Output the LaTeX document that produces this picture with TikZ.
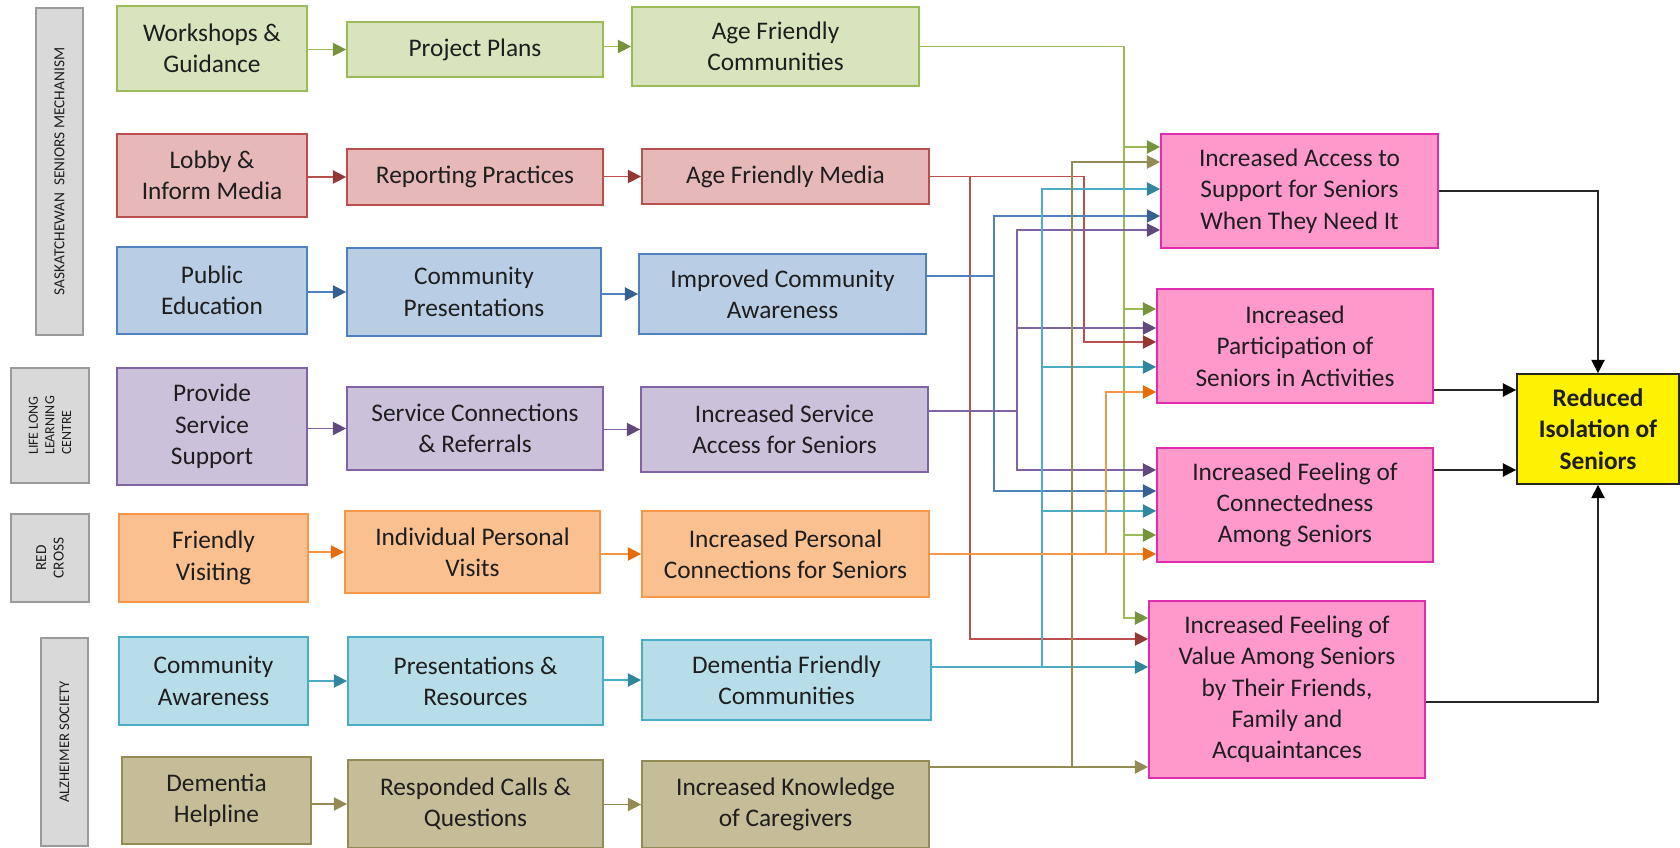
\documentclass[tikz,border=0pt]{standalone}
\usepackage{fontspec}
\setmainfont{Carlito}
\usetikzlibrary{arrows.meta,calc}

\definecolor{grnF}{HTML}{D7E4BD}\definecolor{grnD}{HTML}{9BBB59}\definecolor{grnT}{HTML}{77933C}
\definecolor{redF}{HTML}{E6B9B8}\definecolor{redD}{HTML}{B9504D}\definecolor{redT}{HTML}{953735}
\definecolor{bluF}{HTML}{B9CDE5}\definecolor{bluD}{HTML}{4F81BD}\definecolor{bluT}{HTML}{376092}
\definecolor{purF}{HTML}{CCC1DA}\definecolor{purD}{HTML}{8064A2}\definecolor{purT}{HTML}{604A7B}
\definecolor{oraF}{HTML}{FAC090}\definecolor{oraD}{HTML}{F79646}\definecolor{oraT}{HTML}{E46C0A}
\definecolor{teaF}{HTML}{B7DEE8}\definecolor{teaD}{HTML}{4BACC6}\definecolor{teaT}{HTML}{31859C}
\definecolor{oliF}{HTML}{C4BD97}\definecolor{oliD}{HTML}{948A54}\definecolor{oliT}{HTML}{948A54}
\definecolor{pnkF}{HTML}{FF99CC}\definecolor{pnkD}{HTML}{E02DAE}
\definecolor{labF}{HTML}{D9D9D9}\definecolor{labD}{HTML}{9A9A9A}
\definecolor{txt}{HTML}{1E1E1E}

\tikzset{every picture/.style={line width=0.75pt}}
\tikzset{
  sz/.style 2 args={minimum width=#1*0.75pt, minimum height=#2*0.75pt},
  box/.style={draw, line width=1.3pt, align=center, inner sep=1pt, text=txt, font=\fontsize{19}{23.5}\selectfont},
  lab/.style={draw=labD, fill=labF, line width=1.1pt, rotate=90, align=center, inner sep=1pt, text=txt},
  gbox/.style={box, fill=grnF, draw=grnD},
  rbox/.style={box, fill=redF, draw=redD},
  bbox/.style={box, fill=bluF, draw=bluD},
  pbox/.style={box, fill=purF, draw=purD},
  obox/.style={box, fill=oraF, draw=oraD},
  tbox/.style={box, fill=teaF, draw=teaD},
  lbox/.style={box, fill=oliF, draw=oliD},
  outbox/.style={box, fill=pnkF, draw=pnkD},
  goalbox/.style={box, fill=yellow, draw=black!85, font=\fontsize{19}{23.5}\selectfont\bfseries},
  arrtip/.style={-{Triangle[length=10pt,width=10pt,color=#1]}},
  garr/.style={draw=grnD, line width=1.1pt, arrtip=grnT},
  rarr/.style={draw=redD, line width=1.1pt, arrtip=redT},
  barr/.style={draw=bluD, line width=1.1pt, arrtip=bluT},
  parr/.style={draw=purD, line width=1.1pt, arrtip=purT},
  oarr/.style={draw=oraD, line width=1.1pt, arrtip=oraT},
  tarr/.style={draw=teaD, line width=1.1pt, arrtip=teaT},
  larr/.style={draw=oliD, line width=1.1pt, arrtip=oliT},
  karr/.style={draw=black!85, line width=1.1pt, arrtip=black},
}

\begin{document}
\begin{tikzpicture}[x=0.75pt,y=0.75pt,yscale=-1,xscale=1]
\useasboundingbox (0,0) rectangle (1680,848);

% Side labels
\node[lab, sz={327}{47}, font=\fontsize{11.5}{13}\selectfont] (sask) at (59.5,171.5) {SASKATCHEWAN\ \ SENIORS MECHANISM};
\node[lab, sz={115}{78}, align=left, font=\fontsize{10.5}{12.5}\selectfont] (lllc) at (50,425.5) {LIFE LONG\\LEARNING\\CENTRE};
\node[lab, sz={88}{78}, font=\fontsize{11.5}{13}\selectfont] (rcx) at (50,558) {RED\\CROSS};
\node[lab, sz={208}{47}, font=\fontsize{11}{13}\selectfont] (alz) at (64.5,742) {ALZHEIMER SOCIETY};

% Activities
\node[gbox, sz={190}{85}] (ws) at (212,48.5) {Workshops \&\\Guidance};
\node[rbox, sz={190}{83}] (lob) at (212,175.5) {Lobby \&\\Inform Media};
\node[bbox, sz={190}{87}] (pe) at (212,290.5) {Public\\Education};
\node[pbox, sz={190}{117}] (pss) at (212,426.5) {Provide\\Service\\Support};
\node[obox, sz={189}{88}] (fv) at (213.5,558) {Friendly\\Visiting};
\node[tbox, sz={189}{88}] (ca) at (213.5,681) {Community\\Awareness};
\node[lbox, sz={189}{87}] (dh) at (216.5,800.5) {Dementia\\Helpline};

% Outputs
\node[gbox, sz={256}{55}] (pp) at (475,49.5) {Project Plans};
\node[rbox, sz={256}{56}] (rp) at (475,177) {Reporting Practices};
\node[bbox, sz={254}{88}] (cp) at (474,292) {Community\\Presentations};
\node[pbox, sz={256}{83}] (sc) at (475,428.5) {Service Connections\\\& Referrals};
\node[obox, sz={255}{82}] (ipv) at (472.5,552) {Individual Personal\\Visits};
\node[tbox, sz={255}{88}] (pr) at (475.5,681) {Presentations \&\\Resources};
\node[lbox, sz={255}{88}] (rc) at (475.5,804) {Responded Calls \&\\Questions};

% Short term outcomes
\node[gbox, sz={287}{79}] (afc) at (775.5,46.5) {Age Friendly\\Communities};
\node[rbox, sz={287}{55}] (afm) at (785.5,176.5) {Age Friendly Media};
\node[bbox, sz={287}{80}] (ica) at (782.5,294) {Improved Community\\Awareness};
\node[pbox, sz={287}{85}] (isa) at (784.5,429.5) {Increased Service\\Access for Seniors};
\node[obox, sz={287}{86}] (ipc) at (785.5,554) {Increased Personal\\Connections for Seniors};
\node[tbox, sz={289}{80}] (dfc) at (786.5,680) {Dementia Friendly\\Communities};
\node[lbox, sz={287}{87}] (ik) at (785.5,804.5) {Increased Knowledge\\of Caregivers};

% Intermediate outcomes
\node[outbox, sz={277}{114}] (acc) at (1299.5,191) {Increased Access to\\Support for Seniors\\When They Need It};
\node[outbox, sz={276}{114}] (par) at (1295,346) {Increased\\Participation of\\Seniors in Activities};
\node[outbox, sz={276}{114}] (con) at (1295,505) {Increased Feeling of\\Connectedness\\Among Seniors};
\node[outbox, sz={276}{177}] (val) at (1287,689.5) {Increased Feeling of\\Value Among Seniors\\by Their Friends,\\Family and\\Acquaintances};

% Long term outcome
\node[goalbox, sz={162}{110}] (goal) at (1598,429) {Reduced\\Isolation of\\Seniors};

%Straight Lines
\draw[garr] (ws.east |- pp) -- (pp.west);
\draw[rarr] (lob.east |- rp) -- (rp.west);
\draw[barr] (pe.east |- cp) -- (cp.west);
\draw[parr] (pss.east |- sc) -- (sc.west);
\draw[oarr] (fv.east |- ipv) -- (ipv.west);
\draw[tarr] (ca.east |- pr) -- (pr.west);
\draw[larr] (dh.east |- rc) -- (rc.west);
%Straight Lines
\draw[garr] (pp.east |- afc) -- (afc.west);
\draw[rarr] (rp.east |- afm) -- (afm.west);
\draw[barr] (cp.east |- ica) -- (ica.west);
\draw[parr] (sc.east |- isa) -- (isa.west);
\draw[oarr] (ipv.east |- ipc) -- (ipc.west);
\draw[tarr] (pr.east |- dfc) -- (dfc.west);
\draw[larr] (rc.east |- ik) -- (ik.west);

% Bus lines
\coordinate (xr1) at (970,0);
\coordinate (xb) at (994,0);
\coordinate (xp) at (1017,0);
\coordinate (xt) at (1042,0);
\coordinate (xl) at (1072,0);
\coordinate (xr2) at (1084,0);
\coordinate (xo) at (1106,0);
\coordinate (xg) at (1124,0);

% Leaving points
\coordinate (ica-out) at ($(ica.east)+(0,-18)$);
\coordinate (isa-out) at ($(isa.east)+(0,-18.5)$);
\coordinate (dfc-out) at ($(dfc.east)+(0,-13)$);
\coordinate (ik-out) at ($(ik.east)+(0,-37.5)$);

% Arriving points
\coordinate (acc-g) at ($(acc.west)+(0,-44)$);
\coordinate (acc-l) at ($(acc.west)+(0,-29)$);
\coordinate (acc-t) at ($(acc.west)+(0,-2)$);
\coordinate (acc-b) at ($(acc.west)+(0,25)$);
\coordinate (acc-p) at ($(acc.west)+(0,39)$);
\coordinate (par-g) at ($(par.west)+(0,-37)$);
\coordinate (par-p) at ($(par.west)+(0,-18)$);
\coordinate (par-r) at ($(par.west)+(0,-4)$);
\coordinate (par-t) at ($(par.west)+(0,21)$);
\coordinate (par-o) at ($(par.west)+(0,46)$);
\coordinate (con-p) at ($(con.west)+(0,-35)$);
\coordinate (con-b) at ($(con.west)+(0,-14)$);
\coordinate (con-t) at ($(con.west)+(0,6)$);
\coordinate (con-g) at ($(con.west)+(0,30)$);
\coordinate (val-g) at ($(val.west)+(0,-71.5)$);
\coordinate (val-r) at ($(val.west)+(0,-50.5)$);
\coordinate (goal-a) at ($(goal.west)+(0,-39)$);
\coordinate (goal-b) at ($(goal.west)+(0,41)$);

%Connectors
\draw[garr] (afc.east) -| (xg |- val-g) -- (val-g);
\draw[garr] (xg |- acc-g) -- (acc-g);
\draw[garr] (xg |- par-g) -- (par-g);
\draw[garr] (xg |- con-g) -- (con-g);

\draw[rarr] (afm.east) -| (xr2 |- par-r) -- (par-r);
\draw[rarr] (xr1 |- afm.east) |- (val-r);

\draw[barr] (ica-out) -| (xb |- acc-b) -- (acc-b);
\draw[barr] (xb |- ica-out) |- (con-b);

\draw[parr] (isa-out) -| (xp |- acc-p) -- (acc-p);
\draw[parr] (xp |- isa-out) |- (con-p);
\draw[parr] (xp |- par-p) -- (par-p);

\draw[tarr] (dfc-out) -- (val.west |- dfc-out);
\draw[tarr] (xt |- dfc-out) |- (acc-t);
\draw[tarr] (xt |- par-t) -- (par-t);
\draw[tarr] (xt |- con-t) -- (con-t);

\draw[larr] (ik-out) -- (val.west |- ik-out);
\draw[larr] (xl |- ik-out) |- (acc-l);

\draw[oarr] (ipc.east) -- (con.west |- ipc.east);
\draw[oarr] (xo |- ipc.east) |- (par-o);

\draw[karr] (acc.east) -| (goal.north);
\draw[karr] (par.east |- goal-a) -- (goal-a);
\draw[karr] (con.east |- goal-b) -- (goal-b);
\draw[karr] ($(val.east)+(0,12.5)$) -| (goal.south);

\end{tikzpicture}
\end{document}
